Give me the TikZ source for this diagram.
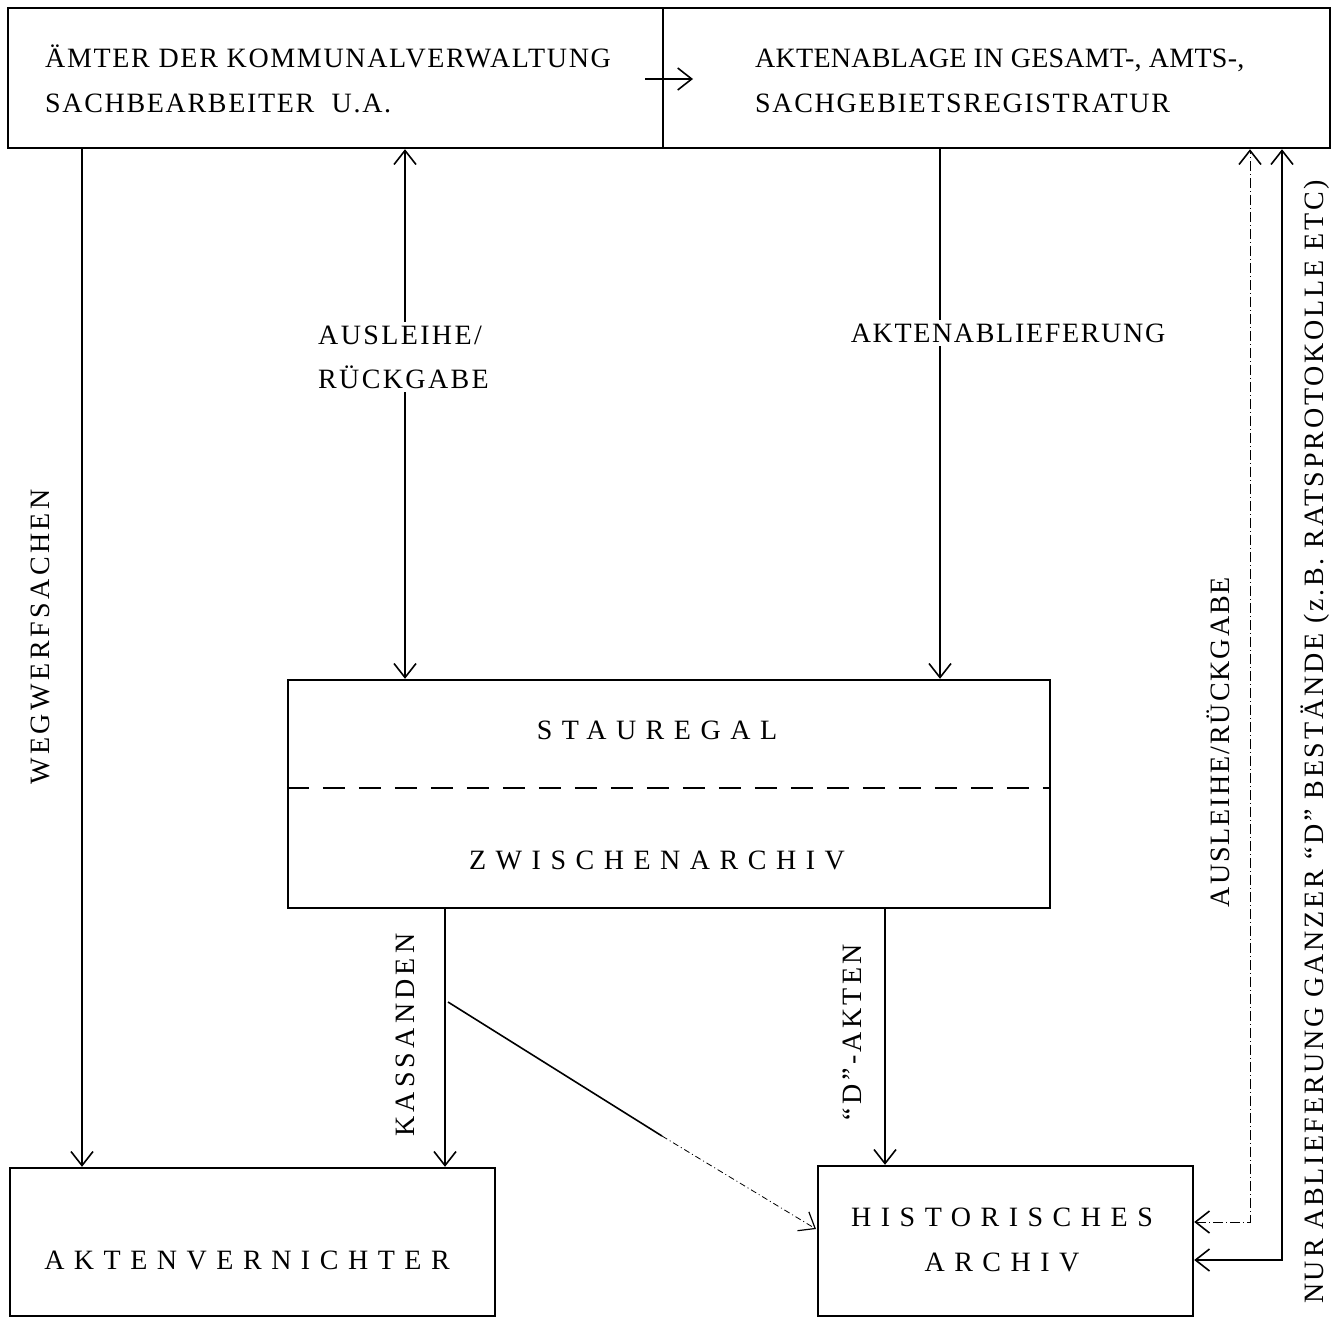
\documentclass[tikz,border=0pt]{standalone}
\usepackage{fontspec}
\setmainfont{Liberation Serif}
\usetikzlibrary{arrows.meta}
\newcommand{\fz}[1]{\fontsize{28}{44}\selectfont\addfontfeatures{LetterSpace=#1}}
\begin{document}
\begin{tikzpicture}[x=1pt,y=-1pt,
  box/.style={draw,line width=2.4pt,inner sep=0pt},
  arr/.style={line width=1.6pt,-{Straight Barb[length=14pt,width=22pt,line width=1.6pt]}},
  darr/.style={line width=1.6pt,{Straight Barb[length=14pt,width=22pt,line width=1.6pt]}-{Straight Barb[length=14pt,width=22pt,line width=1.6pt]}},
  txt/.style={font=\fz{6},inner sep=0pt},
  lbl/.style={fill=white,inner sep=4pt},
  wide/.style={font=\fz{34},inner sep=0pt}
]
\useasboundingbox (0,0) rectangle (1343,1318);
% boxes
\node[box,minimum width=655pt,minimum height=140pt] (topL) at (335.5,78) {};
\node[box,minimum width=667pt,minimum height=140pt] (topR) at (996.5,78) {};
\node[box,minimum width=762pt,minimum height=228pt] (stau) at (669,794) {};
\node[box,minimum width=485pt,minimum height=148pt] (vern) at (252.5,1242) {};
\node[box,minimum width=375pt,minimum height=150pt] (hist) at (1005.5,1241) {};
\draw[line width=1.6pt,dash pattern=on 22pt off 14pt] (stau.west |- 0,788) -- (stau.east |- 0,788);
% texts in boxes
\node[txt,anchor=base west] (t1) at (45,67) {ÄMTER DER KOMMUNALVERWALTUNG};
\node[txt,anchor=base west] (t2) at (45,112) {SACHBEARBEITER\ \ U.A.};
\node[txt,font=\fz{1},anchor=base west] (t3) at (755,67) {AKTENABLAGE IN GESAMT-, AMTS-,};
\node[txt,anchor=base west] (t4) at (755,112) {SACHGEBIETSREGISTRATUR};
\node[wide] (t5) at (657,730) {STAUREGAL};
\node[wide] (t6) at (657,860) {ZWISCHENARCHIV};
\node[wide] (t7) at (247,1260) {AKTENVERNICHTER};
\node[wide] (t8) at (1002,1217) {HISTORISCHES};
\node[wide] (t9) at (1002,1262) {ARCHIV};
% coordinates
\coordinate (xw) at (82,0);
\coordinate (xa) at (405,0);
\coordinate (xb) at (940,0);
\coordinate (xk) at (445,0);
\coordinate (xd) at (885,0);
\coordinate (xr1) at (1250,0);
\coordinate (xr2) at (1282,0);
\coordinate (diag0) at (448,1002);
\coordinate (diag1) at (662,1136);
\coordinate (diagE) at (816,1229);
\coordinate (c1) at (1250,1222);
\coordinate (c2) at (1282,1260);
\coordinate (m0) at (645,79);
\coordinate (m1) at (693,79);
% connectors
\draw[arr] (m0) -- (m1);
\draw[arr] (topL.south -| xw) -- (vern.north -| xw);
\draw[darr] (topL.south -| xa) -- (stau.north -| xa);
\draw[arr] (topR.south -| xb) -- (stau.north -| xb);
\draw[arr] (stau.south -| xk) -- (vern.north -| xk);
\draw[arr] (stau.south -| xd) -- (hist.north -| xd);
\draw[line width=1.6pt] (diag0) -- (diag1);
\draw[line width=0.8pt,dash pattern=on 6pt off 3pt on 1pt off 3pt,-{Straight Barb[length=14pt,width=22pt,line width=1.2pt]}] (diag1) -- (diagE);
\draw[line width=1pt,dash pattern=on 10pt off 3pt on 1pt off 3pt,{Straight Barb[length=14pt,width=22pt,line width=1.6pt]}-{Straight Barb[length=14pt,width=22pt,line width=1.6pt]}] (hist.east |- c1) -- (c1) -- (topR.south -| xr1);
\draw[line width=1.2pt,{Straight Barb[length=14pt,width=22pt,line width=1.6pt]}-{Straight Barb[length=14pt,width=22pt,line width=1.6pt]}] (hist.east |- c2) -- (c2) -- (topR.south -| xr2);
% labels
\node[lbl,font=\fz{8.5},align=left,anchor=west] (l1) at (314,357) {AUSLEIHE/\\RÜCKGABE};
\node[lbl,font=\fz{6}] (l2) at (1008,333) {AKTENABLIEFERUNG};
\node[txt,rotate=90,font=\fz{12.5}] (l3) at (40,637) {WEGWERFSACHEN};
\node[txt,rotate=90,font=\fz{15}] (l4) at (405,1035) {KASSANDEN};
\node[txt,rotate=90,font=\fz{12}] (l5) at (852,1032) {“D”-AKTEN};
\node[txt,rotate=90,font=\fz{7}] (l6) at (1218,742) {AUSLEIHE/RÜCKGABE};
\node[txt,rotate=90,font=\fz{10}] (l7) at (1315,742) {NUR ABLIEFERUNG GANZER “D” BESTÄNDE (z.B. RATSPROTOKOLLE ETC)};
\end{tikzpicture}
\end{document}
